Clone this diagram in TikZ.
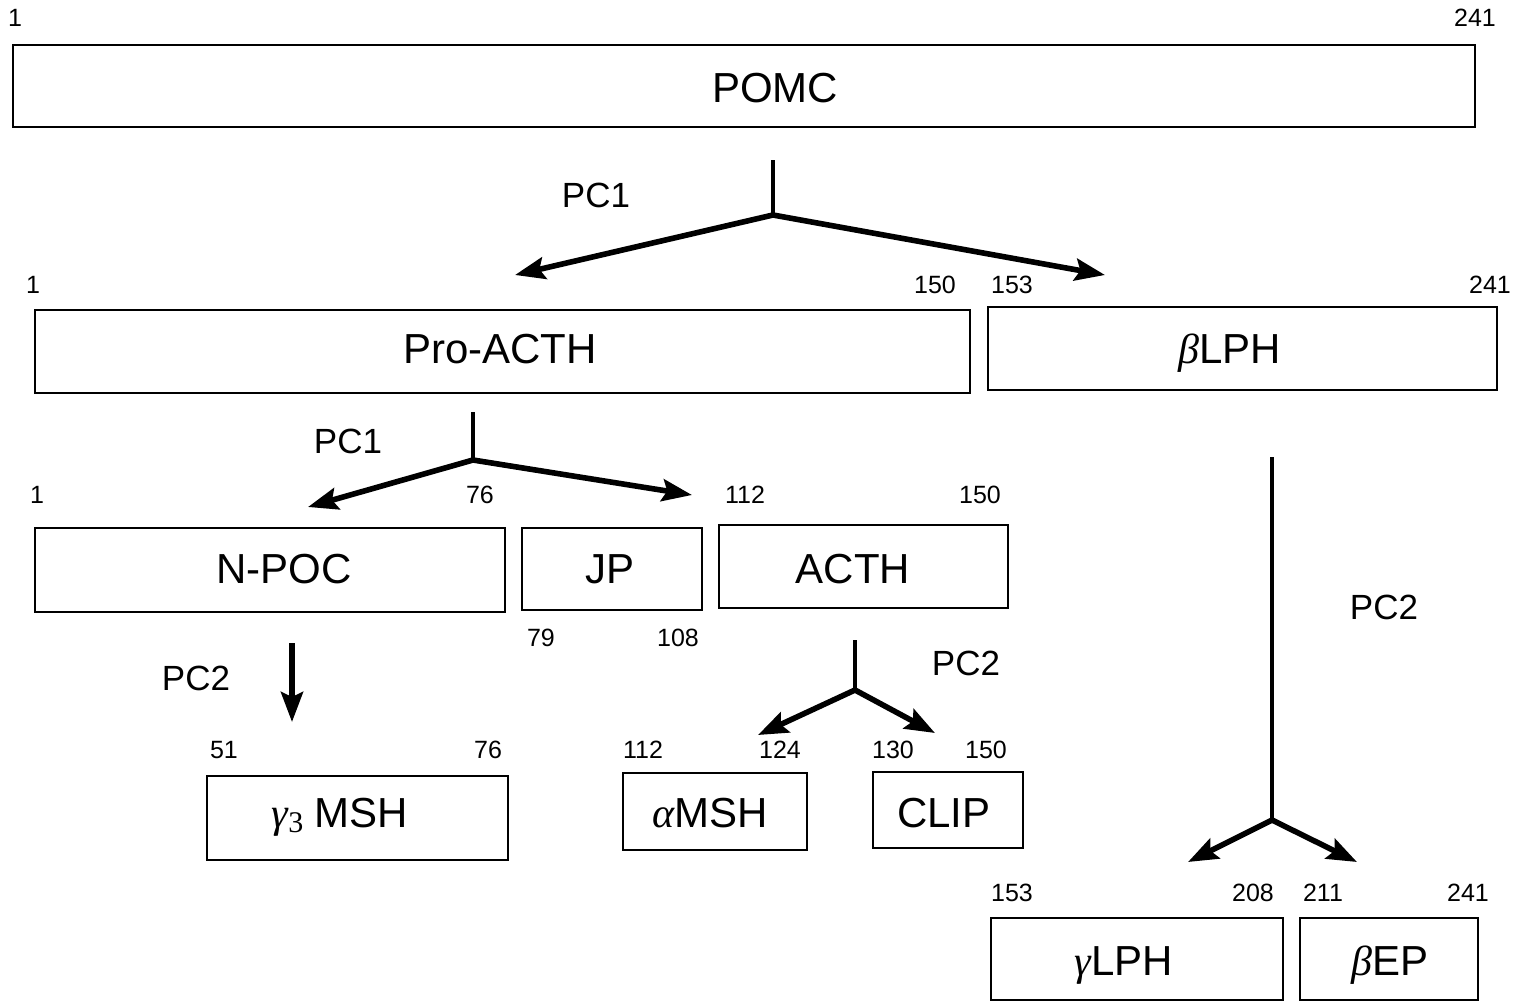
\documentclass[tikz,border=0pt]{standalone}
\usepackage{fontspec}
\setmainfont{Liberation Sans}
\newfontfamily\grkfont{Liberation Serif}
\newcommand{\grk}[1]{{\grkfont\itshape #1}}
\usetikzlibrary{arrows.meta}
\begin{document}
\begin{tikzpicture}[x=0.5pt,y=-0.5pt,
  box/.style={draw, line width=1.4pt, inner sep=0pt},
  lab/.style={font=\fontsize{21}{25}\selectfont, inner sep=0pt, anchor=base},
  num/.style={font=\fontsize{12.5}{15}\selectfont, inner sep=0pt},
  pc/.style={font=\fontsize{17.5}{21}\selectfont, inner sep=0pt},
  stem/.style={line width=2.4pt},
  branch/.style={line width=2.8pt, -{Stealth[length=15pt,width=11pt,inset=2.5pt]}}]
\useasboundingbox (0,0) rectangle (1523,1002);
% boxes
\node[box, minimum width=731pt, minimum height=41pt] (pomc) at (744,86) {};
\node[lab] (pomcT) at (775,102) {POMC};
\node[box, minimum width=467.5pt, minimum height=41.5pt] (proacth) at (502.5,351.5) {};
\node[lab] (proacthT) at (500,363) {Pro-ACTH};
\node[box, minimum width=254.5pt, minimum height=41.5pt] (blph) at (1242.5,348.5) {};
\node[lab] (blphT) at (1230,363) {\grk{β}LPH};
\node[box, minimum width=235pt, minimum height=42pt] (npoc) at (270,570) {};
\node[lab] (npocT) at (284,583) {N-POC};
\node[box, minimum width=90pt, minimum height=41pt] (jp) at (612,569) {};
\node[lab] (jpT) at (610,583) {JP};
\node[box, minimum width=144.5pt, minimum height=41.5pt] (acth) at (863.5,566.5) {};
\node[lab] (acthT) at (853,583) {ACTH};
\node[box, minimum width=150.5pt, minimum height=42pt] (g3msh) at (357.5,818) {};
\node[lab] (g3mshT) at (340,827) {\grk{γ}\raisebox{-0.25ex}{\fontsize{15}{18}\selectfont\grkfont 3} MSH};
\node[box, minimum width=92pt, minimum height=38.5pt] (amsh) at (715,811.5) {};
\node[lab] (amshT) at (710,827) {\grk{α}MSH};
\node[box, minimum width=75pt, minimum height=38pt] (clip) at (948,810) {};
\node[lab] (clipT) at (944,827) {CLIP};
\node[box, minimum width=146pt, minimum height=41pt] (glph) at (1137,959) {};
\node[lab] (glphT) at (1124,975) {\grk{γ}LPH};
\node[box, minimum width=89pt, minimum height=41pt] (bep) at (1389,959) {};
\node[lab] (bepT) at (1390,975) {\grk{β}EP};
% numbers
\node[num] (n1) at (15,18) {1};
\node[num] (n2) at (1475,18) {241};
\node[num] (n3) at (33,285) {1};
\node[num] (n4) at (935,285) {150};
\node[num] (n5) at (1012,285) {153};
\node[num] (n6) at (1490,285) {241};
\node[num] (n7) at (37,495) {1};
\node[num] (n8) at (480,495) {76};
\node[num] (n9) at (745,495) {112};
\node[num] (n10) at (980,495) {150};
\node[num] (n11) at (541,638) {79};
\node[num] (n12) at (678,638) {108};
\node[num] (n13) at (224,750) {51};
\node[num] (n14) at (488,750) {76};
\node[num] (n15) at (643,750) {112};
\node[num] (n16) at (780,750) {124};
\node[num] (n17) at (893,750) {130};
\node[num] (n18) at (986,750) {150};
\node[num] (n19) at (1012,893) {153};
\node[num] (n20) at (1253,893) {208};
\node[num] (n21) at (1323,893) {211};
\node[num] (n22) at (1468,893) {241};
% enzyme labels
\node[pc] (pc1a) at (596,195) {PC1};
\node[pc] (pc1b) at (348,441) {PC1};
\node[pc] (pc2a) at (196,678) {PC2};
\node[pc] (pc2b) at (966,663) {PC2};
\node[pc] (pc2c) at (1384,607) {PC2};
% tree 1
\coordinate (t1s) at (773,160);
\coordinate (t1j) at (773,215);
\coordinate (t1l) at (515,275);
\coordinate (t1r) at (1105,275);
\draw[stem] (t1s) -- (t1j);
\draw[branch] (t1j) -- (t1l);
\draw[branch] (t1j) -- (t1r);
% tree 2
\coordinate (t2s) at (473,412);
\coordinate (t2j) at (473,460);
\coordinate (t2l) at (308,507);
\coordinate (t2r) at (692,495);
\draw[stem] (t2s) -- (t2j);
\draw[branch] (t2j) -- (t2l);
\draw[branch] (t2j) -- (t2r);
% N-POC -> gamma3 MSH
\coordinate (t3s) at (292,643);
\coordinate (t3e) at (292,722);
\draw[branch] (t3s) -- (t3e);
% ACTH tree
\coordinate (t4s) at (855,640);
\coordinate (t4j) at (855,690);
\coordinate (t4l) at (758,735);
\coordinate (t4r) at (935,733);
\draw[stem] (t4s) -- (t4j);
\draw[branch] (t4j) -- (t4l);
\draw[branch] (t4j) -- (t4r);
% beta LPH tree
\coordinate (t5s) at (1272,457);
\coordinate (t5j) at (1272,820);
\coordinate (t5l) at (1188,862);
\coordinate (t5r) at (1357,862);
\draw[stem] (t5s) -- (t5j);
\draw[branch] (t5j) -- (t5l);
\draw[branch] (t5j) -- (t5r);
\end{tikzpicture}
\end{document}
